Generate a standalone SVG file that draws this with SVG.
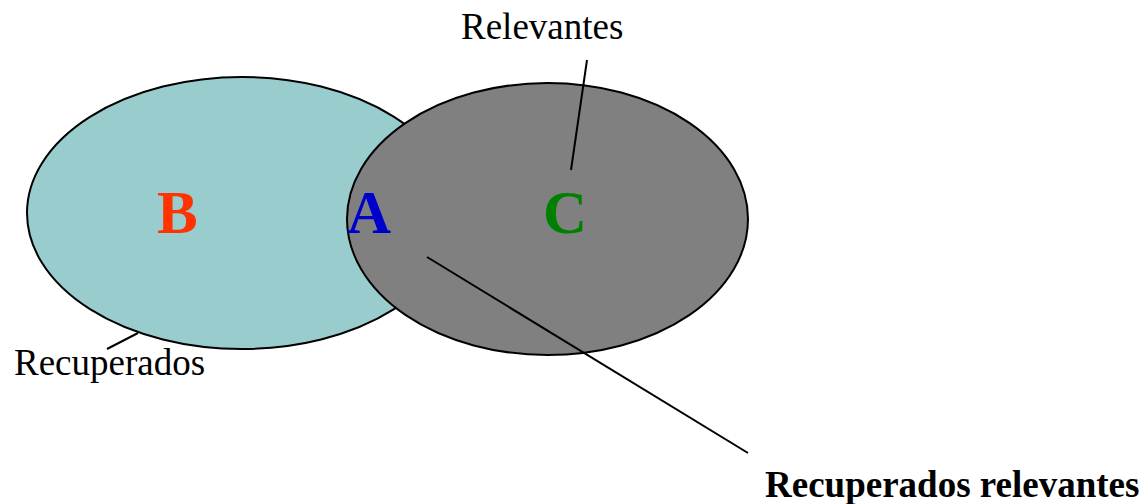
<svg xmlns="http://www.w3.org/2000/svg" width="1146" height="504" viewBox="0 0 1146 504">
<style>
.set{stroke:#000;stroke-width:2}
.lbl{font-family:"Liberation Serif","Times New Roman",serif;font-size:37px;fill:#000}
.big{font-family:"Liberation Serif","Times New Roman",serif;font-size:61px;font-weight:bold}
.ln{stroke:#000;stroke-width:2;fill:none}
</style>
<rect width="1146" height="504" fill="#fff"/>
<g id="recuperados">
<ellipse class="set" cx="242" cy="213" rx="215" ry="136" fill="#99CCCC"/>
</g>
<g id="relevantes">
<ellipse class="set" cx="547.5" cy="219" rx="200.5" ry="136" fill="#808080"/>
</g>
<g id="letters">
<text class="big" x="157" y="233" fill="#FF3300">B</text>
<text class="big" x="347" y="233" fill="#0000CC">A</text>
<text class="big" x="543" y="233" fill="#008000">C</text>
</g>
<g id="connectors">
<line class="ln" x1="587" y1="60" x2="571" y2="170"/>
<line class="ln" x1="427" y1="257" x2="748" y2="453"/>
<line class="ln" x1="138" y1="333" x2="107" y2="349"/>
</g>
<g id="labels">
<text class="lbl" x="461" y="39">Relevantes</text>
<text class="lbl" x="14" y="375">Recuperados</text>
<text class="lbl" x="765" y="497" font-weight="bold">Recuperados relevantes</text>
</g>
</svg>
